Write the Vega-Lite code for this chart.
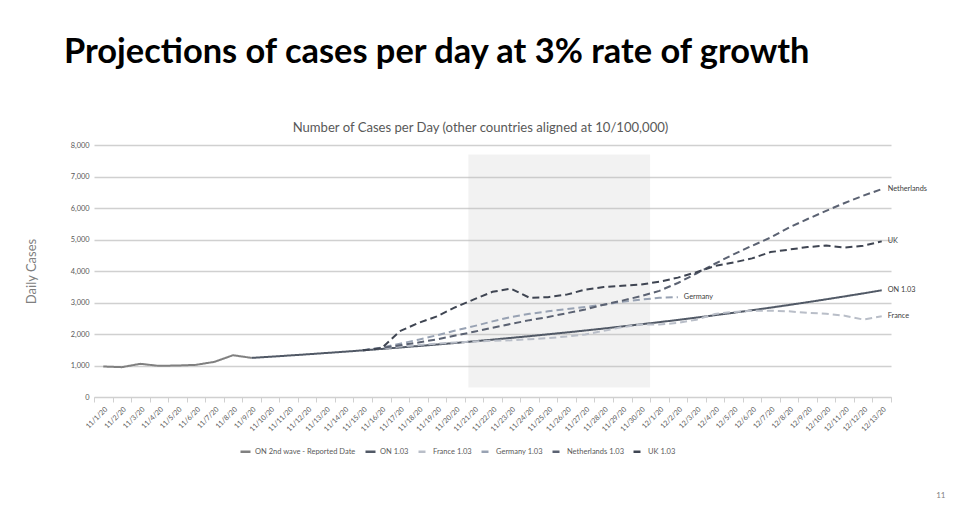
{
  "$schema": "https://vega.github.io/schema/vega-lite/v6.json",
  "width": 797,
  "height": 252,
  "autosize": {"type": "none"},
  "padding": {"left": 94, "top": 145, "right": 69, "bottom": 117},
  "background": "white",
  "title": {
    "text": "Projections of cases per day at 3% rate of growth",
    "anchor": "start",
    "frame": "group",
    "dx": -30,
    "offset": 51,
    "font": "Lato",
    "fontWeight": "bold",
    "fontSize": 34.4,
    "color": "#000000"
  },
  "config": {
    "view": {"stroke": null},
    "axisY": {
      "grid": true,
      "gridColor": "#d0d0d0",
      "gridWidth": 1.3,
      "domain": false,
      "ticks": false,
      "tickCount": 8,
      "labelExpr": "datum.value == 0 ? '0' : floor(datum.value / 1000) + ',000'",
      "labelFont": "Lato",
      "labelFontSize": 7.4,
      "labelColor": "#595959",
      "labelPadding": 5,
      "titleFont": "Lato",
      "titleFontSize": 13,
      "titleColor": "#7f7f7f",
      "titleFontWeight": "normal",
      "titlePadding": 32
    }
  },
  "resolve": {"axis": {"x": "independent"}},
  "layer": [
    {
      "data": {"values": [{"start": "11/21/20", "end": "11/30/20", "lo": 300, "hi": 7700}]},
      "mark": {"type": "rect", "fill": "#bfbfbf", "opacity": 0.2},
      "encoding": {
        "x": {
          "field": "start",
          "type": "ordinal",
          "bandPosition": 0.2,
          "axis": {
            "orient": "top",
            "labels": false,
            "ticks": false,
            "domain": false,
            "grid": false,
            "title": "Number of Cases per Day (other countries aligned at 10/100,000)",
            "titleX": 386,
            "titleY": -14,
            "titleAlign": "center",
            "titleBaseline": "alphabetic",
            "titleFont": "Lato",
            "titleFontSize": 13.1,
            "titleColor": "#595959",
            "titleFontWeight": "normal"
          }
        },
        "x2": {"field": "end", "bandPosition": 1},
        "y": {"field": "lo", "type": "quantitative", "title": "Daily Cases"},
        "y2": {"field": "hi"}
      }
    },
    {
      "data": {
        "values": [
          {"series": "ON 2nd wave - Reported Date", "date": "11/1/20", "value": 968},
          {"series": "ON 2nd wave - Reported Date", "date": "11/2/20", "value": 947},
          {"series": "ON 2nd wave - Reported Date", "date": "11/3/20", "value": 1053},
          {"series": "ON 2nd wave - Reported Date", "date": "11/4/20", "value": 989},
          {"series": "ON 2nd wave - Reported Date", "date": "11/5/20", "value": 1000},
          {"series": "ON 2nd wave - Reported Date", "date": "11/6/20", "value": 1021},
          {"series": "ON 2nd wave - Reported Date", "date": "11/7/20", "value": 1116},
          {"series": "ON 2nd wave - Reported Date", "date": "11/8/20", "value": 1326},
          {"series": "ON 2nd wave - Reported Date", "date": "11/9/20", "value": 1242},

          {"series": "ON 1.03", "date": "11/9/20", "value": 1242},
          {"series": "ON 1.03", "date": "11/10/20", "value": 1277},
          {"series": "ON 1.03", "date": "11/11/20", "value": 1316},
          {"series": "ON 1.03", "date": "11/12/20", "value": 1355},
          {"series": "ON 1.03", "date": "11/13/20", "value": 1396},
          {"series": "ON 1.03", "date": "11/14/20", "value": 1437},
          {"series": "ON 1.03", "date": "11/15/20", "value": 1481},
          {"series": "ON 1.03", "date": "11/16/20", "value": 1525},
          {"series": "ON 1.03", "date": "11/17/20", "value": 1571},
          {"series": "ON 1.03", "date": "11/18/20", "value": 1618},
          {"series": "ON 1.03", "date": "11/19/20", "value": 1666},
          {"series": "ON 1.03", "date": "11/20/20", "value": 1716},
          {"series": "ON 1.03", "date": "11/21/20", "value": 1768},
          {"series": "ON 1.03", "date": "11/22/20", "value": 1821},
          {"series": "ON 1.03", "date": "11/23/20", "value": 1876},
          {"series": "ON 1.03", "date": "11/24/20", "value": 1932},
          {"series": "ON 1.03", "date": "11/25/20", "value": 1990},
          {"series": "ON 1.03", "date": "11/26/20", "value": 2049},
          {"series": "ON 1.03", "date": "11/27/20", "value": 2111},
          {"series": "ON 1.03", "date": "11/28/20", "value": 2174},
          {"series": "ON 1.03", "date": "11/29/20", "value": 2240},
          {"series": "ON 1.03", "date": "11/30/20", "value": 2307},
          {"series": "ON 1.03", "date": "12/1/20", "value": 2376},
          {"series": "ON 1.03", "date": "12/2/20", "value": 2447},
          {"series": "ON 1.03", "date": "12/3/20", "value": 2521},
          {"series": "ON 1.03", "date": "12/4/20", "value": 2597},
          {"series": "ON 1.03", "date": "12/5/20", "value": 2674},
          {"series": "ON 1.03", "date": "12/6/20", "value": 2755},
          {"series": "ON 1.03", "date": "12/7/20", "value": 2837},
          {"series": "ON 1.03", "date": "12/8/20", "value": 2922},
          {"series": "ON 1.03", "date": "12/9/20", "value": 3010},
          {"series": "ON 1.03", "date": "12/10/20", "value": 3101},
          {"series": "ON 1.03", "date": "12/11/20", "value": 3194},
          {"series": "ON 1.03", "date": "12/12/20", "value": 3289},
          {"series": "ON 1.03", "date": "12/13/20", "value": 3388},

          {"series": "France 1.03", "date": "11/15/20", "value": 1481},
          {"series": "France 1.03", "date": "11/16/20", "value": 1540},
          {"series": "France 1.03", "date": "11/17/20", "value": 1600},
          {"series": "France 1.03", "date": "11/18/20", "value": 1650},
          {"series": "France 1.03", "date": "11/19/20", "value": 1695},
          {"series": "France 1.03", "date": "11/20/20", "value": 1730},
          {"series": "France 1.03", "date": "11/21/20", "value": 1760},
          {"series": "France 1.03", "date": "11/22/20", "value": 1785},
          {"series": "France 1.03", "date": "11/23/20", "value": 1800},
          {"series": "France 1.03", "date": "11/24/20", "value": 1835},
          {"series": "France 1.03", "date": "11/25/20", "value": 1870},
          {"series": "France 1.03", "date": "11/26/20", "value": 1920},
          {"series": "France 1.03", "date": "11/27/20", "value": 1985},
          {"series": "France 1.03", "date": "11/28/20", "value": 2100},
          {"series": "France 1.03", "date": "11/29/20", "value": 2220},
          {"series": "France 1.03", "date": "11/30/20", "value": 2300},
          {"series": "France 1.03", "date": "12/1/20", "value": 2300},
          {"series": "France 1.03", "date": "12/2/20", "value": 2350},
          {"series": "France 1.03", "date": "12/3/20", "value": 2455},
          {"series": "France 1.03", "date": "12/4/20", "value": 2635},
          {"series": "France 1.03", "date": "12/5/20", "value": 2700},
          {"series": "France 1.03", "date": "12/6/20", "value": 2740},
          {"series": "France 1.03", "date": "12/7/20", "value": 2740},
          {"series": "France 1.03", "date": "12/8/20", "value": 2720},
          {"series": "France 1.03", "date": "12/9/20", "value": 2670},
          {"series": "France 1.03", "date": "12/10/20", "value": 2645},
          {"series": "France 1.03", "date": "12/11/20", "value": 2580},
          {"series": "France 1.03", "date": "12/12/20", "value": 2460},
          {"series": "France 1.03", "date": "12/13/20", "value": 2560},

          {"series": "Germany 1.03", "date": "11/15/20", "value": 1481},
          {"series": "Germany 1.03", "date": "11/16/20", "value": 1570},
          {"series": "Germany 1.03", "date": "11/17/20", "value": 1690},
          {"series": "Germany 1.03", "date": "11/18/20", "value": 1820},
          {"series": "Germany 1.03", "date": "11/19/20", "value": 1960},
          {"series": "Germany 1.03", "date": "11/20/20", "value": 2110},
          {"series": "Germany 1.03", "date": "11/21/20", "value": 2250},
          {"series": "Germany 1.03", "date": "11/22/20", "value": 2400},
          {"series": "Germany 1.03", "date": "11/23/20", "value": 2540},
          {"series": "Germany 1.03", "date": "11/24/20", "value": 2640},
          {"series": "Germany 1.03", "date": "11/25/20", "value": 2720},
          {"series": "Germany 1.03", "date": "11/26/20", "value": 2790},
          {"series": "Germany 1.03", "date": "11/27/20", "value": 2860},
          {"series": "Germany 1.03", "date": "11/28/20", "value": 2930},
          {"series": "Germany 1.03", "date": "11/29/20", "value": 3020},
          {"series": "Germany 1.03", "date": "11/30/20", "value": 3090},
          {"series": "Germany 1.03", "date": "12/1/20", "value": 3150},
          {"series": "Germany 1.03", "date": "12/2/20", "value": 3170},

          {"series": "Netherlands 1.03", "date": "11/15/20", "value": 1481},
          {"series": "Netherlands 1.03", "date": "11/16/20", "value": 1560},
          {"series": "Netherlands 1.03", "date": "11/17/20", "value": 1640},
          {"series": "Netherlands 1.03", "date": "11/18/20", "value": 1730},
          {"series": "Netherlands 1.03", "date": "11/19/20", "value": 1830},
          {"series": "Netherlands 1.03", "date": "11/20/20", "value": 1950},
          {"series": "Netherlands 1.03", "date": "11/21/20", "value": 2070},
          {"series": "Netherlands 1.03", "date": "11/22/20", "value": 2200},
          {"series": "Netherlands 1.03", "date": "11/23/20", "value": 2320},
          {"series": "Netherlands 1.03", "date": "11/24/20", "value": 2440},
          {"series": "Netherlands 1.03", "date": "11/25/20", "value": 2540},
          {"series": "Netherlands 1.03", "date": "11/26/20", "value": 2660},
          {"series": "Netherlands 1.03", "date": "11/27/20", "value": 2780},
          {"series": "Netherlands 1.03", "date": "11/28/20", "value": 2930},
          {"series": "Netherlands 1.03", "date": "11/29/20", "value": 3060},
          {"series": "Netherlands 1.03", "date": "11/30/20", "value": 3200},
          {"series": "Netherlands 1.03", "date": "12/1/20", "value": 3370},
          {"series": "Netherlands 1.03", "date": "12/2/20", "value": 3620},
          {"series": "Netherlands 1.03", "date": "12/3/20", "value": 3920},
          {"series": "Netherlands 1.03", "date": "12/4/20", "value": 4230},
          {"series": "Netherlands 1.03", "date": "12/5/20", "value": 4530},
          {"series": "Netherlands 1.03", "date": "12/6/20", "value": 4800},
          {"series": "Netherlands 1.03", "date": "12/7/20", "value": 5060},
          {"series": "Netherlands 1.03", "date": "12/8/20", "value": 5380},
          {"series": "Netherlands 1.03", "date": "12/9/20", "value": 5650},
          {"series": "Netherlands 1.03", "date": "12/10/20", "value": 5910},
          {"series": "Netherlands 1.03", "date": "12/11/20", "value": 6160},
          {"series": "Netherlands 1.03", "date": "12/12/20", "value": 6390},
          {"series": "Netherlands 1.03", "date": "12/13/20", "value": 6600},

          {"series": "UK 1.03", "date": "11/15/20", "value": 1481},
          {"series": "UK 1.03", "date": "11/16/20", "value": 1540},
          {"series": "UK 1.03", "date": "11/17/20", "value": 2090},
          {"series": "UK 1.03", "date": "11/18/20", "value": 2350},
          {"series": "UK 1.03", "date": "11/19/20", "value": 2560},
          {"series": "UK 1.03", "date": "11/20/20", "value": 2850},
          {"series": "UK 1.03", "date": "11/21/20", "value": 3100},
          {"series": "UK 1.03", "date": "11/22/20", "value": 3340},
          {"series": "UK 1.03", "date": "11/23/20", "value": 3440},
          {"series": "UK 1.03", "date": "11/24/20", "value": 3150},
          {"series": "UK 1.03", "date": "11/25/20", "value": 3170},
          {"series": "UK 1.03", "date": "11/26/20", "value": 3250},
          {"series": "UK 1.03", "date": "11/27/20", "value": 3410},
          {"series": "UK 1.03", "date": "11/28/20", "value": 3490},
          {"series": "UK 1.03", "date": "11/29/20", "value": 3530},
          {"series": "UK 1.03", "date": "11/30/20", "value": 3570},
          {"series": "UK 1.03", "date": "12/1/20", "value": 3660},
          {"series": "UK 1.03", "date": "12/2/20", "value": 3790},
          {"series": "UK 1.03", "date": "12/3/20", "value": 3960},
          {"series": "UK 1.03", "date": "12/4/20", "value": 4160},
          {"series": "UK 1.03", "date": "12/5/20", "value": 4270},
          {"series": "UK 1.03", "date": "12/6/20", "value": 4400},
          {"series": "UK 1.03", "date": "12/7/20", "value": 4600},
          {"series": "UK 1.03", "date": "12/8/20", "value": 4680},
          {"series": "UK 1.03", "date": "12/9/20", "value": 4760},
          {"series": "UK 1.03", "date": "12/10/20", "value": 4810},
          {"series": "UK 1.03", "date": "12/11/20", "value": 4745},
          {"series": "UK 1.03", "date": "12/12/20", "value": 4800},
          {"series": "UK 1.03", "date": "12/13/20", "value": 4940}
        ]
      },
      "mark": {"type": "line", "strokeWidth": 2},
      "encoding": {
        "x": {
          "field": "date",
          "type": "ordinal",
          "scale": {
            "type": "band",
            "paddingInner": 0,
            "paddingOuter": 0,
            "domain": ["11/1/20","11/2/20","11/3/20","11/4/20","11/5/20","11/6/20","11/7/20","11/8/20","11/9/20","11/10/20","11/11/20","11/12/20","11/13/20","11/14/20","11/15/20","11/16/20","11/17/20","11/18/20","11/19/20","11/20/20","11/21/20","11/22/20","11/23/20","11/24/20","11/25/20","11/26/20","11/27/20","11/28/20","11/29/20","11/30/20","12/1/20","12/2/20","12/3/20","12/4/20","12/5/20","12/6/20","12/7/20","12/8/20","12/9/20","12/10/20","12/11/20","12/12/20","12/13/20"]
          },
          "axis": {
            "orient": "bottom",
            "labelAngle": -45,
            "labelFont": "Lato",
            "labelFontSize": 7.2,
            "labelColor": "#595959",
            "labelPadding": 3,
            "domainColor": "#d0d0d0",
            "tickColor": "#d0d0d0",
            "tickSize": 5,
            "tickBand": "extent",
            "grid": false,
            "title": "11",
            "titleX": 851,
            "titleY": 100,
            "titleAlign": "right",
            "titleBaseline": "alphabetic",
            "titleFont": "Lato",
            "titleFontSize": 8,
            "titleColor": "#7f7f7f",
            "titleFontWeight": "normal"
          }
        },
        "y": {
          "field": "value",
          "type": "quantitative",
          "scale": {"domain": [0, 8000], "nice": false},
          "title": "Daily Cases"
        },
        "color": {
          "field": "series",
          "type": "nominal",
          "scale": {
            "domain": ["ON 2nd wave - Reported Date", "ON 1.03", "France 1.03", "Germany 1.03", "Netherlands 1.03", "UK 1.03"],
            "range": ["#808080", "#515966", "#b9bec8", "#98a2b3", "#5b6272", "#3f4552"]
          },
          "legend": {
            "orient": "none",
            "legendX": 145,
            "legendY": 300,
            "direction": "horizontal",
            "title": null,
            "symbolType": "stroke",
            "symbolSize": 100,
            "symbolStrokeWidth": 2.5,
            "labelFont": "Lato",
            "labelFontSize": 7.5,
            "labelColor": "#595959",
            "labelOffset": 3,
            "columnPadding": 4
          }
        },
        "strokeDash": {
          "field": "series",
          "type": "nominal",
          "scale": {
            "domain": ["ON 2nd wave - Reported Date", "ON 1.03", "France 1.03", "Germany 1.03", "Netherlands 1.03", "UK 1.03"],
            "range": [[1, 0], [1, 0], [7, 4], [7, 4], [7, 4], [7, 4]]
          }
        }
      }
    },
    {
      "data": {
        "values": [
          {"label": "Netherlands", "date": "12/13/20", "value": 6600},
          {"label": "UK", "date": "12/13/20", "value": 4940},
          {"label": "ON 1.03", "date": "12/13/20", "value": 3388},
          {"label": "France", "date": "12/13/20", "value": 2560},
          {"label": "Germany", "date": "12/2/20", "value": 3170}
        ]
      },
      "mark": {"type": "text", "align": "left", "baseline": "middle", "dx": 6, "font": "Lato", "fontSize": 7.3, "color": "#404040"},
      "encoding": {
        "x": {"field": "date", "type": "ordinal", "axis": null},
        "y": {"field": "value", "type": "quantitative", "title": "Daily Cases"},
        "text": {"field": "label"}
      }
    }
  ]
}
